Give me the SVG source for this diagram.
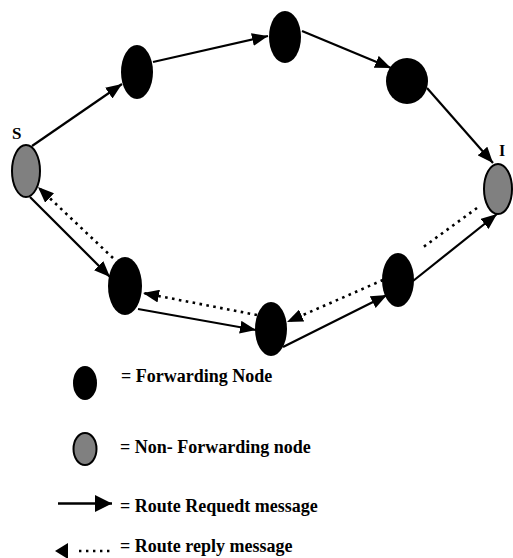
<svg xmlns="http://www.w3.org/2000/svg" width="513" height="558" viewBox="0 0 513 558">
  <style>
    .fwd { fill: #000; }
    .nonfwd { fill: #808080; stroke: #000; stroke-width: 2; }
    .req { fill: none; stroke: #000; stroke-width: 2.2; marker-end: url(#head); }
    .rep { fill: none; stroke: #000; stroke-width: 2.6; stroke-dasharray: 2.6 4.4; }
    .rep.arrow { marker-end: url(#head); }
    .lbl { font-family: "Liberation Serif", "Times New Roman", serif; font-weight: bold; fill: #000; }
    .legend { font-family: "Liberation Serif", "Times New Roman", serif; font-weight: bold; font-size: 18px; fill: #000; }
  </style>
  <defs>
    <marker id="head" viewBox="0 0 16 13" refX="16" refY="6.5" markerWidth="16" markerHeight="13" orient="auto" markerUnits="userSpaceOnUse">
      <path d="M0,0 L16,6.5 L0,13 Z" fill="#000"/>
    </marker>
    <marker id="bighead" viewBox="0 0 17 17" refX="17" refY="8.5" markerWidth="17" markerHeight="17" orient="auto" markerUnits="userSpaceOnUse">
      <path d="M0,0 L17,8.5 L0,17 Z" fill="#000"/>
    </marker>
  </defs>

  <!-- nodes -->
  <g id="node-S">
    <ellipse class="nonfwd" cx="26" cy="171" rx="14" ry="26"/>
    <text class="lbl" x="12" y="139" font-size="17">S</text>
  </g>
  <g id="node-A"><ellipse class="fwd" cx="137" cy="72" rx="16" ry="27"/></g>
  <g id="node-B"><ellipse class="fwd" cx="285" cy="37" rx="16" ry="26"/></g>
  <g id="node-C"><ellipse class="fwd" cx="407" cy="81" rx="21" ry="23"/></g>
  <g id="node-I">
    <ellipse class="nonfwd" cx="498" cy="189" rx="14" ry="25"/>
    <text class="lbl" x="499" y="156" font-size="16">I</text>
  </g>
  <g id="node-D"><ellipse class="fwd" cx="398" cy="280" rx="16" ry="27"/></g>
  <g id="node-E"><ellipse class="fwd" cx="271" cy="329" rx="16" ry="27"/></g>
  <g id="node-F"><ellipse class="fwd" cx="125" cy="286" rx="17" ry="29"/></g>

  <!-- connectors -->
  <g id="connectors">
    <!-- route request -->
    <line class="req" x1="32" y1="146" x2="122" y2="84"/>
    <line class="req" x1="153" y1="62" x2="268" y2="36"/>
    <line class="req" x1="302" y1="31" x2="391" y2="68"/>
    <line class="req" x1="427" y1="88" x2="493" y2="163"/>
    <line class="req" x1="30" y1="197" x2="110" y2="277"/>
    <line class="req" x1="138" y1="309" x2="256" y2="330"/>
    <line class="req" x1="283" y1="347" x2="387" y2="295"/>
    <line class="req" x1="413" y1="281" x2="497" y2="214"/>
    <!-- route reply -->
    <line class="rep arrow" x1="113" y1="258" x2="38" y2="187"/>
    <line class="rep arrow" x1="257" y1="315" x2="143" y2="293"/>
    <line class="rep arrow" x1="383" y1="280" x2="287" y2="322"/>
    <line class="rep" x1="477" y1="208" x2="422" y2="248"/>
  </g>

  <!-- legend -->
  <g id="legend">
    <ellipse class="fwd" cx="85" cy="383" rx="12" ry="17"/>
    <text class="legend" x="121" y="382">= Forwarding Node</text>
    <ellipse class="nonfwd" cx="85" cy="449" rx="11.5" ry="16"/>
    <text class="legend" x="120" y="453">= Non- Forwarding node</text>
    <line x1="58" y1="503.5" x2="112" y2="503.5" stroke="#000" stroke-width="2.4" marker-end="url(#bighead)"/>
    <text class="legend" x="120" y="512">= Route Requedt message</text>
    <path d="M55,551 L68,543 L68,559 Z" fill="#000"/>
    <line x1="79" y1="551" x2="110" y2="551" stroke="#000" stroke-width="2.4" stroke-dasharray="2.4 4.6"/>
    <text class="legend" x="120" y="552">= Route reply message</text>
  </g>
</svg>
